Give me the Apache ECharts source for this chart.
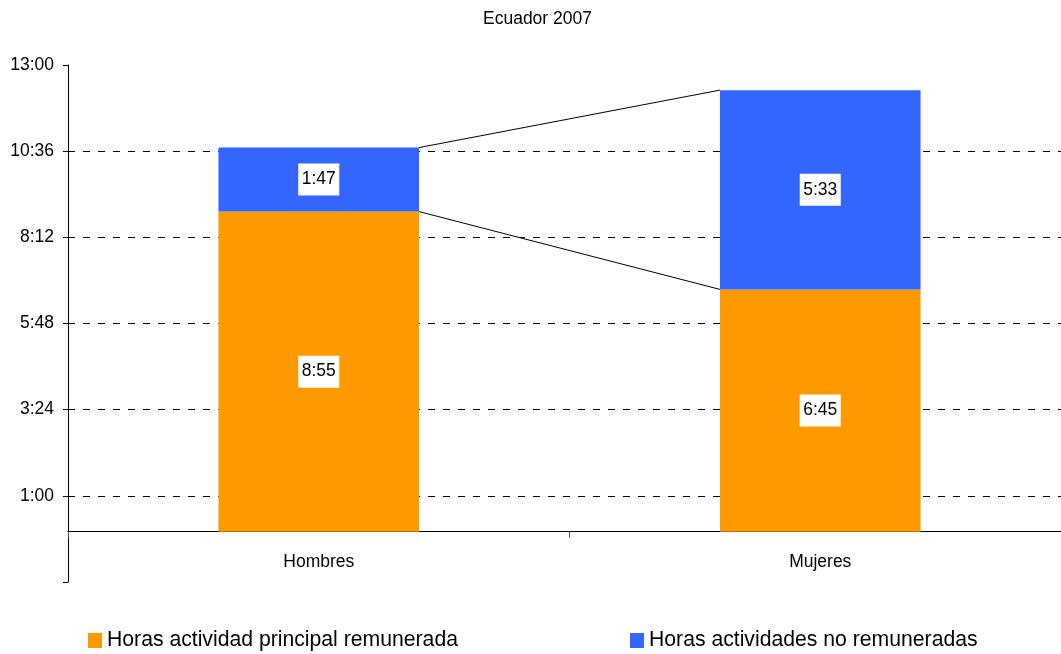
<!DOCTYPE html>
<html>
<head>
<meta charset="utf-8">
<title>Ecuador 2007</title>
<script src="https://cdn.jsdelivr.net/npm/echarts@6/dist/echarts.min.js"></script>
<style>
  html, body { margin: 0; padding: 0; background: #fff; }
  #chart { width: 1061px; height: 654px; }
</style>
</head>
<body>
<div id="chart"></div>
<script>
// Time values are stored in minutes and shown as H:MM
const categories = ['Hombres', 'Mujeres'];
const seriesNames = ['Horas actividad principal remunerada', 'Horas actividades no remuneradas'];
const paidMinutes = [535, 405];    // 8:55, 6:45
const unpaidMinutes = [107, 333];  // 1:47, 5:33

// Value axis: -1:24 .. 13:00 in 2:24 steps (the lowest tick is unlabelled)
const axisMin = -84;
const axisMax = 780;
const axisStep = 144;

const FONT = '"Liberation Sans", Arial, sans-serif';

function toHM(min) {
  const h = Math.floor(min / 60);
  const m = Math.round(min - h * 60);
  return h + ':' + (m < 10 ? '0' : '') + m;
}

// Connector lines between the tops of each stacked level
const levels = [
  [0, paidMinutes[0], paidMinutes[1]],
  [0, paidMinutes[0] + unpaidMinutes[0], paidMinutes[1] + unpaidMinutes[1]]
];

const BAR_WIDTH_RATIO = 0.4;

const labelStyle = {
  show: true,
  position: 'inside',
  color: '#000',
  fontFamily: FONT,
  fontSize: 17.5,
  lineHeight: 20,
  backgroundColor: '#fff',
  padding: [6, 3.5, 6, 3.5],
  formatter: p => toHM(p.value)
};

const legendBase = {
  top: 630,
  padding: 0,
  itemWidth: 14,
  itemHeight: 15,
  icon: 'rect',
  textStyle: { fontFamily: FONT, fontSize: 21.2, color: '#000' }
};

const chart = echarts.init(document.getElementById('chart'), null, { renderer: 'canvas' });

chart.setOption({
  animation: false,
  backgroundColor: '#fff',
  textStyle: { fontFamily: FONT },
  title: {
    text: 'Ecuador 2007',
    left: 483,
    top: 10,
    padding: 0,
    textStyle: { fontFamily: FONT, fontSize: 17.5, fontWeight: 'normal', color: '#000' }
  },
  legend: [
    Object.assign({}, legendBase, { data: [seriesNames[0]], left: 88 }),
    Object.assign({}, legendBase, { data: [seriesNames[1]], left: 630 })
  ],
  grid: {
    left: 68, top: 65, width: 1003, height: 517,
    containLabel: false,
    outerBoundsMode: 'none'
  },
  xAxis: {
    type: 'category',
    data: categories,
    axisLine: { onZero: true, lineStyle: { color: '#000', width: 1 } },
    axisTick: { show: true, length: 6, lineStyle: { color: '#555' } },
    axisLabel: { margin: -29, color: '#000', fontFamily: FONT, fontSize: 17.5 },
    splitLine: { show: false }
  },
  yAxis: {
    type: 'value',
    min: axisMin,
    max: axisMax,
    interval: axisStep,
    axisLine: { show: true, lineStyle: { color: '#000', width: 1 } },
    axisTick: { show: true, length: 5, lineStyle: { color: '#000' } },
    axisLabel: {
      margin: 14,
      color: '#000',
      fontFamily: FONT,
      fontSize: 17.5,
      formatter: v => (v < 0 ? '' : toHM(v))
    },
    splitLine: {
      show: true,
      showMinLine: false,
      showMaxLine: false,
      lineStyle: { color: '#000', width: 1, type: [7, 8] }
    }
  },
  series: [
    {
      name: seriesNames[0],
      type: 'bar',
      stack: 'horas',
      data: paidMinutes,
      barWidth: (BAR_WIDTH_RATIO * 100) + '%',
      itemStyle: { color: '#FF9900' },
      label: labelStyle,
      z: 3
    },
    {
      name: seriesNames[1],
      type: 'bar',
      stack: 'horas',
      data: unpaidMinutes,
      barWidth: (BAR_WIDTH_RATIO * 100) + '%',
      itemStyle: { color: '#3366FF' },
      label: labelStyle,
      z: 3
    },
    {
      name: 'series-lines',
      type: 'custom',
      silent: true,
      z: 4,
      data: levels,
      encode: { x: 0, y: [1, 2] },
      renderItem: function (params, api) {
        const a = api.coord([0, api.value(1)]);
        const b = api.coord([1, api.value(2)]);
        const half = api.size([1, 0])[0] * BAR_WIDTH_RATIO / 2;
        return {
          type: 'line',
          shape: { x1: a[0] + half, y1: a[1], x2: b[0] - half, y2: b[1] },
          style: { stroke: '#000', lineWidth: 1 }
        };
      }
    }
  ]
});
</script>
</body>
</html>
